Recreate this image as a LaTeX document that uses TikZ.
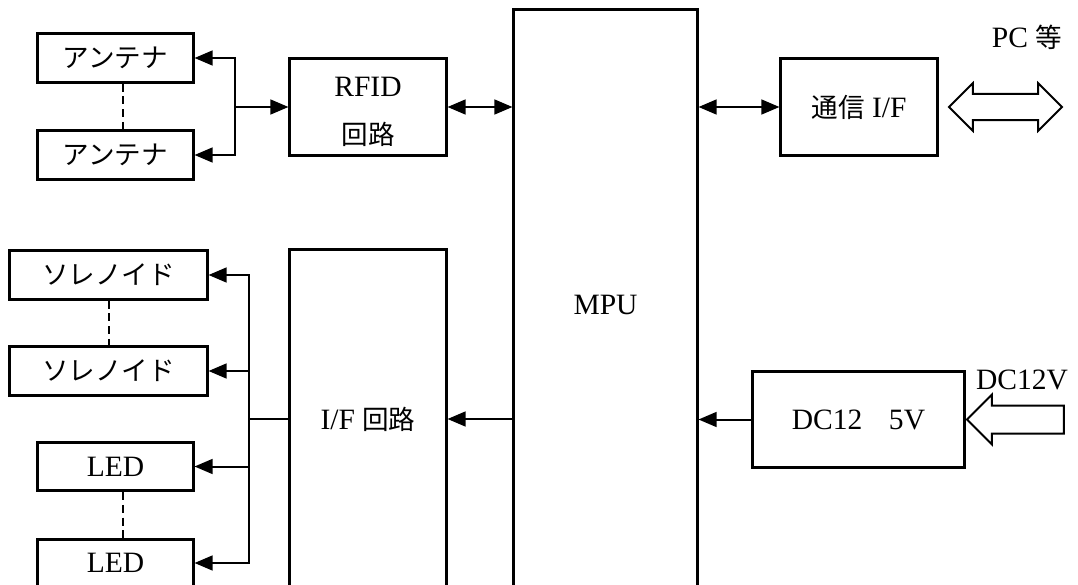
\documentclass[tikz,border=0pt]{standalone}
\usepackage{fontspec}
\setmainfont{Liberation Serif}
\newfontfamily\jp{Noto Sans CJK JP}[Scale=0.9]
\usetikzlibrary{arrows.meta,shapes.arrows}
\tikzset{
  blk/.style={draw,line width=0.075cm,inner sep=0pt,align=center},
  arr/.style={line width=0.05cm,-{Triangle[length=0.45cm,width=0.37cm]}},
  dbl/.style={line width=0.05cm,{Triangle[length=0.45cm,width=0.37cm]}-{Triangle[length=0.45cm,width=0.37cm]}},
  hollow/.style={draw,line width=0.05cm,inner xsep=0pt,inner ysep=0.3cm,minimum width=0pt}
}
\begin{document}
\begin{tikzpicture}[x=0.025cm,y=-0.025cm,font=\fontsize{21}{25}\selectfont]
\clip (0,0) rectangle (1078,585);
% antennas and RFID
\node[blk,minimum width=3.875cm,minimum height=1.2cm] (ant1) at (115.5,58) {\jp アンテナ};
\node[blk,minimum width=3.875cm,minimum height=1.2cm] (ant2) at (115.5,155) {\jp アンテナ};
\node[blk,minimum width=3.9cm,minimum height=2.4cm,label={[yshift=-0.12cm,align=center]center:RFID\\[0.32cm]{\jp 回路}}] (rfid) at (368,107) {};
\node[blk,minimum width=4.575cm,minimum height=14.75cm] (mpu) at (605.5,305) {MPU};
\node[blk,minimum width=3.9cm,minimum height=2.4cm] (comif) at (859,107) {{\jp 通信} I/F};
\node[blk,minimum width=5.275cm,minimum height=2.375cm] (dcdc) at (858.5,419.5) {DC12\hspace{0.9em}5V};
\node[blk,minimum width=3.9cm,minimum height=8.45cm] (ifc) at (368,419) {I/F {\jp 回路}};
% outputs
\node[blk,minimum width=4.925cm,minimum height=1.2cm] (sol1) at (108.5,275) {\jp ソレノイド};
\node[blk,minimum width=4.925cm,minimum height=1.2cm] (sol2) at (108.5,371) {\jp ソレノイド};
\node[blk,minimum width=3.875cm,minimum height=1.2cm] (led1) at (115.5,466.5) {LED};
\node[blk,minimum width=3.875cm,minimum height=1.2cm] (led2) at (115.5,563) {LED};
% external
\node[hollow,double arrow,minimum height=2.825cm,double arrow head extend=0.27cm] (pcarrow) at (1005.5,107) {};
\node[hollow,single arrow,shape border rotate=180,inner ysep=0.325cm,minimum height=2.425cm,single arrow head extend=0.275cm,anchor=tip] (dcarrow) at (dcdc.east) {};
\node (pc) at (1027,37) {PC {\jp 等}};
\node (dcin) at (1022,380) {DC12V};
% connectors
\coordinate (abus) at (235,107);
\coordinate (sbus) at (249,419);
\draw[arr] (abus) -- (rfid.west);
\foreach \n in {ant1,ant2}{\draw[arr] (abus) |- (\n.east);}
\draw[dbl] (rfid.east) -- (rfid.east -| mpu.west);
\draw[dbl] (mpu.east |- comif.west) -- (comif.west);
\draw[arr] (dcdc.west) -- (dcdc.west -| mpu.east);
\draw[arr] (mpu.west |- ifc.east) -- (ifc.east);
\draw[line width=0.05cm] (ifc.west) -- (sbus);
\foreach \n in {sol1,sol2,led1,led2}{\draw[arr] (sbus) |- (\n.east);}
\foreach \a/\b/\s in {ant1/ant2/0.19,sol1/sol2/0,led1/led2/0.19}{
  \draw[line width=0.05cm,dash pattern=on 0.2cm off 0.12cm] ([xshift=\s cm]\a.south) -- ([xshift=\s cm]\b.north);}
\end{tikzpicture}
\end{document}
